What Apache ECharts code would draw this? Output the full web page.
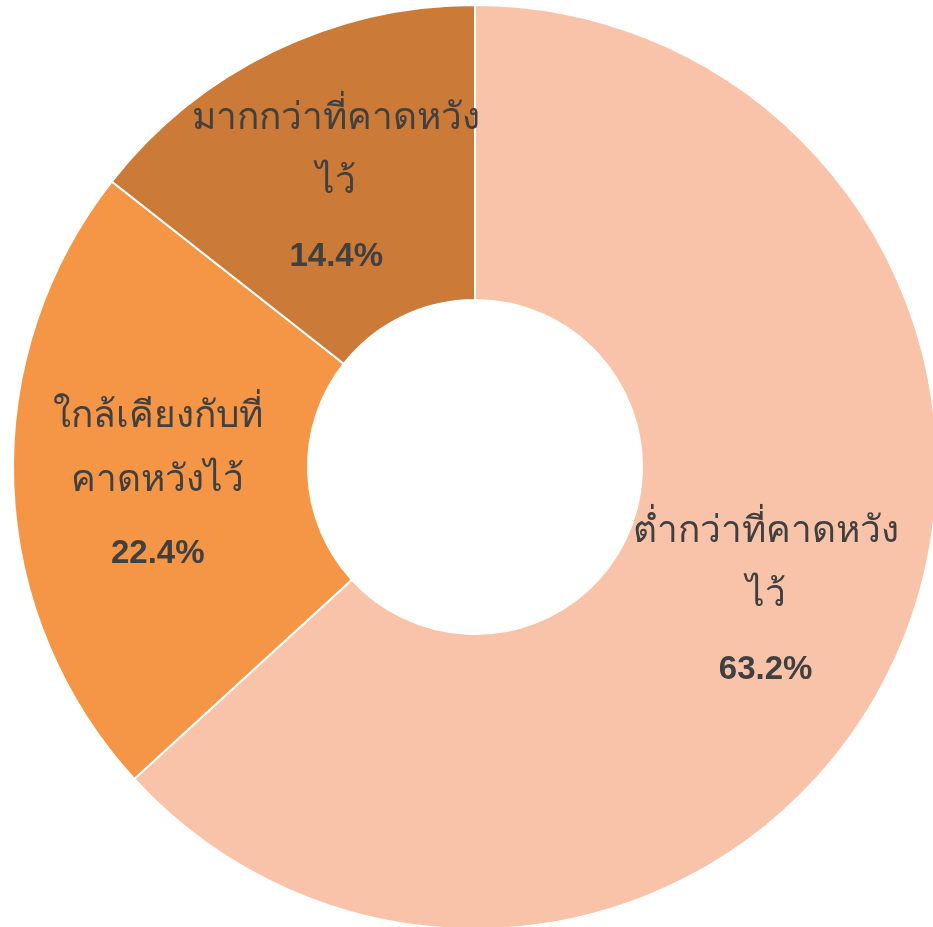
<!DOCTYPE html>
<html>
<head>
<meta charset="utf-8">
<script src="https://cdn.jsdelivr.net/npm/echarts@6/dist/echarts.min.js"></script>
<style>
  html, body { margin: 0; padding: 0; background: #fff; }
  #chart { width: 933px; height: 927px; }
</style>
</head>
<body>
<div id="chart"></div>
<script>
    // categories (line breaks as shown in the chart)
    var categories = ['ต่ำกว่าที่คาดหวัง\nไว้', 'ใกล้เคียงกับที่\nคาดหวังไว้', 'มากกว่าที่คาดหวัง\nไว้'];
    var values = [63.2, 22.4, 14.4];
    var colors = ['#F8C3A8', '#F59646', '#CB7A38'];

    var data = [];
    for (var i = 0; i < categories.length; i++) {
        data.push({ name: categories[i], value: values[i], itemStyle: { color: colors[i] } });
    }

    var chart = echarts.init(document.getElementById('chart'));
    var option = {
        animation: false,
        series: [
            {
                type: 'pie',
                center: [475, 467],
                radius: [167, 462],
                startAngle: 90,
                clockwise: true,
                avoidLabelOverlap: false,
                itemStyle: { borderColor: '#fff', borderWidth: 2 },
                label: {
                    show: true,
                    position: 'inside',
                    color: '#404040',
                    padding: [22, 0, 0, 0],
                    formatter: function (p) {
                        return '{n|' + p.name.split('\n').join('}\n{n|') + '}\n{p|' + p.value.toFixed(1) + '%}';
                    },
                    rich: {
                        n: { fontSize: 37, lineHeight: 64, color: '#404040', fontFamily: 'Noto Sans, DejaVu Sans, sans-serif' },
                        p: { fontSize: 33, fontWeight: 'bold', lineHeight: 84, color: '#404040', fontFamily: 'Liberation Sans, Arial, sans-serif' }
                    }
                },
                labelLine: { show: false },
                data: data
            }
        ]
    };
    chart.setOption(option);
</script>
</body>
</html>
